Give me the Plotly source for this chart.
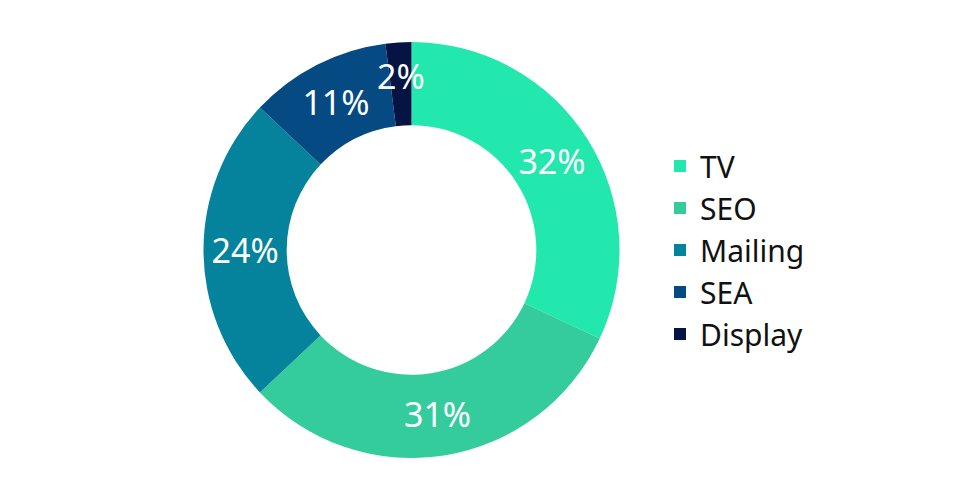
import math
import plotly.graph_objects as go

labels = ["TV", "SEO", "Mailing", "SEA", "Display"]
values = [32, 31, 24, 11, 2]
colors = ["#22E8AE", "#35CC9D", "#05839D", "#054A82", "#051442"]

W, H = 979, 500
off = 8  # default page body margin
cx, cy, r = 411.5 - off, 250 - off, 208
hole = 0.6

total = sum(values)
# slices too thin for plotly's own inside label get an annotation at the ring middle
small = [v / total < 0.04 for v in values]
templates = ["" if s else "%{percent:.0%}" for s in small]

fig = go.Figure(go.Pie(
    labels=labels,
    values=values,
    hole=hole,
    sort=False,
    direction="clockwise",
    rotation=0,
    marker=dict(colors=colors, line=dict(width=0)),
    texttemplate=templates,
    textposition="inside",
    insidetextorientation="horizontal",
    textfont=dict(color="white", size=34, family="Noto Sans"),
    domain=dict(x=[(cx - r) / W, (cx + r) / W], y=[(H - cy - r) / H, (H - cy + r) / H]),
    hoverinfo="label+percent",
))

cum = 0
for v, s in zip(values, small):
    mid = (cum + v / 2) / total * 2 * math.pi
    cum += v
    if not s:
        continue
    rr = r * (1 + hole) / 2 + 8
    px = cx + rr * math.sin(mid)
    py = cy - rr * math.cos(mid)
    fig.add_annotation(
        x=px / W, y=(H - py) / H, xref="paper", yref="paper",
        text=f"{round(v / total * 100)}%", showarrow=False,
        font=dict(color="white", size=34, family="Noto Sans"),
        xanchor="center", yanchor="middle",
    )

fig.update_layout(
    width=W, height=H,
    margin=dict(l=0, r=0, t=0, b=0),
    paper_bgcolor="white",
    plot_bgcolor="white",
    showlegend=True,
    legend=dict(
        x=(660 - off) / W, y=(H - (250 - off)) / H, xanchor="left", yanchor="middle",
        font=dict(size=30, color="#111111", family="Noto Sans"),
        itemsizing="constant",
        traceorder="normal",
    ),
)

fig.write_html("out.html")
